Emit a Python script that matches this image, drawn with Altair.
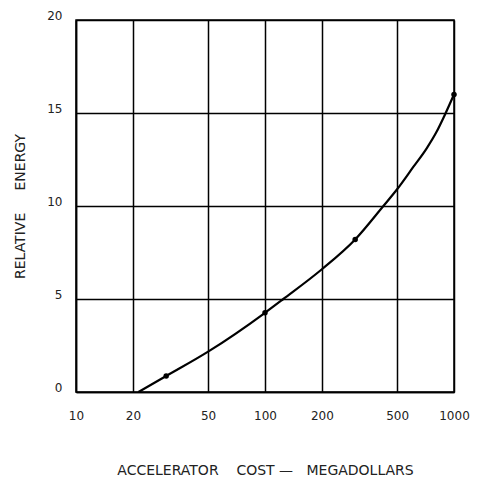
import altair as alt
import pandas as pd

# Curve (cost in megadollars, relative energy)
cost_curve = [21.4, 30, 50, 100, 125, 200, 300, 423, 500, 609, 717, 810, 885, 1000]
energy_curve = [0.0, 0.86, 2.17, 4.26, 5.0, 6.6, 8.2, 10.0, 10.9, 12.1, 13.1, 14.0, 14.8, 16.0]

# Marked data points
cost_points = [30, 100, 300, 1000]
energy_points = [0.86, 4.26, 8.2, 16.0]

x_ticks = [10, 20, 50, 100, 200, 500, 1000]
y_ticks = [0, 5, 10, 15, 20]

NB = "\u00a0"
x_title = "ACCELERATOR" + NB * 4 + "COST" + NB + "—" + NB * 3 + "MEGADOLLARS"
y_title = "RELATIVE" + NB * 5 + "ENERGY"

curve_df = pd.DataFrame({"cost": cost_curve, "energy": energy_curve})
pts_df = pd.DataFrame({"cost": cost_points, "energy": energy_points})

FONT = "DejaVu Sans"
xscale = alt.Scale(type="log", domain=[10, 1000], nice=False)
yscale = alt.Scale(domain=[0, 20], nice=False, zero=False)

xaxis = alt.Axis(
    values=x_ticks, format="d", grid=True, ticks=False, labelFlush=False,
    labelPadding=18, title=x_title, titlePadding=42,
)
yaxis = alt.Axis(
    values=y_ticks, format="d", grid=True, ticks=False, labelFlush=False,
    labelPadding=14, labelOffset=-5, title=y_title, titlePadding=19,
)

line = alt.Chart(curve_df).mark_line(
    color="black", strokeWidth=2.2, interpolate="monotone"
).encode(
    x=alt.X("cost:Q", scale=xscale, axis=xaxis),
    y=alt.Y("energy:Q", scale=yscale, axis=yaxis),
)

dots = alt.Chart(pts_df).mark_point(
    filled=True, color="black", size=30, opacity=1
).encode(
    x=alt.X("cost:Q", scale=xscale),
    y=alt.Y("energy:Q", scale=yscale),
)

chart = (line + dots).properties(
    width=378, height=372,
    autosize=alt.AutoSizeParams(type="none"),
    padding={"left": 68, "top": 12, "right": 16, "bottom": 87},
).configure_view(
    stroke="black", strokeWidth=1.5
).configure_axis(
    domainColor="black", domainWidth=1.5,
    gridColor="black", gridWidth=1.5, gridOpacity=1,
    labelFont=FONT, labelFontSize=12, labelColor="#222",
    titleFont=FONT, titleFontSize=14, titleFontWeight="normal", titleColor="#222",
)

chart.save("out.html", embed_options={"renderer": "svg", "actions": False})
